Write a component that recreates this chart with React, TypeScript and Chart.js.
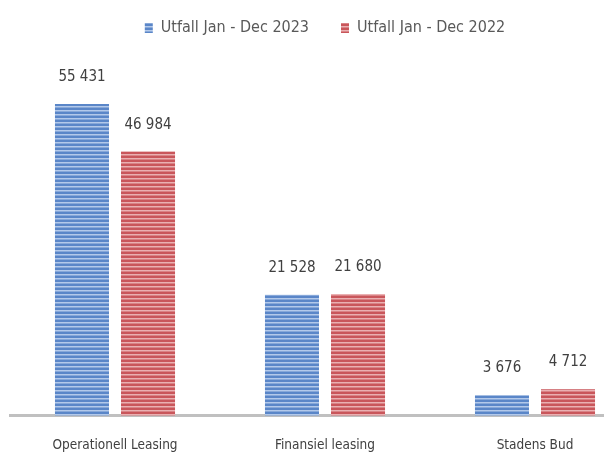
import React, { useEffect, useRef } from "react";
import { Chart, registerables } from "chart.js";

Chart.register(...registerables);

const categories = ["Operationell Leasing", "Finansiel leasing", "Stadens Bud"];
const series2023 = [55431, 21528, 3676];
const series2022 = [46984, 21680, 4712];
const seriesNames = ["Utfall Jan - Dec 2023", "Utfall Jan - Dec 2022"];

const FONT = "'Liberation Sans Narrow', 'DejaVu Sans Condensed', sans-serif";

function stripe(dark: string, light: string): CanvasPattern | string {
  const c = document.createElement("canvas");
  c.width = 4;
  c.height = 4;
  const ctx = c.getContext("2d");
  if (!ctx) return dark;
  ctx.fillStyle = dark;
  ctx.fillRect(0, 0, 4, 4);
  ctx.fillStyle = light;
  ctx.fillRect(0, 2, 4, 1.5);
  const p = ctx.createPattern(c, "repeat");
  return p || dark;
}

const fmt = (v: number) => {
  const s = String(Math.round(v));
  return s.replace(/\B(?=(\d{3})+(?!\d))/g, " ");
};

const labelPlugin = {
  id: "barLabels",
  afterDatasetsDraw(chart: any) {
    const ctx = chart.ctx;
    ctx.save();
    ctx.font = `15px ${FONT}`;
    ctx.fillStyle = "#404040";
    ctx.textAlign = "center";
    ctx.textBaseline = "middle";
    chart.data.datasets.forEach((ds: any, i: number) => {
      const meta = chart.getDatasetMeta(i);
      meta.data.forEach((bar: any, j: number) => {
        ctx.fillText(fmt(ds.data[j]), bar.x, bar.y - 27);
      });
    });
    ctx.restore();
  },
};

export default function App() {
  const ref = useRef<HTMLCanvasElement>(null);
  useEffect(() => {
    if (!ref.current) return;
    const blue = stripe("#5a86c8", "#b3c9ea");
    const red = stripe("#c9565b", "#eab0b2");
    const chart = new Chart(ref.current, {
      type: "bar",
      data: {
        labels: categories,
        datasets: [
          {
            label: seriesNames[0],
            data: series2023,
            backgroundColor: blue as any,
            borderWidth: 0,
            categoryPercentage: 0.629,
            barPercentage: 0.818,
          },
          {
            label: seriesNames[1],
            data: series2022,
            backgroundColor: red as any,
            borderWidth: 0,
            categoryPercentage: 0.629,
            barPercentage: 0.818,
          },
        ],
      },
      options: {
        animation: false,
        responsive: false,
        maintainAspectRatio: false,
        layout: { padding: { left: 10, right: 10, top: 0, bottom: 13 } },
        plugins: {
          legend: {
            position: "top",
            labels: {
              boxWidth: 8,
              boxHeight: 10,
              padding: 32,
              color: "#595959",
              font: { family: FONT, size: 16 },
            },
          },
          tooltip: { enabled: false },
        },
        scales: {
          x: {
            grid: { display: false },
            border: { display: true, color: "#c0c0c0", width: 3 },
            ticks: {
              color: "#404040",
              padding: 14,
              font: { family: FONT, size: 13.5 },
            },
          },
          y: {
            display: false,
            min: 0,
            max: 65768,
          },
        },
      },
      plugins: [labelPlugin],
    });
    return () => chart.destroy();
  }, []);
  return (
    <div
      style={{
        position: "absolute",
        left: 0,
        top: 0,
        width: 604,
        height: 459,
        overflow: "hidden",
        background: "#ffffff",
      }}
    >
      <canvas
        ref={ref}
        width={650}
        height={493}
        style={{ display: "block", position: "absolute", left: 0, top: -12 }}
      />
    </div>
  );
}
